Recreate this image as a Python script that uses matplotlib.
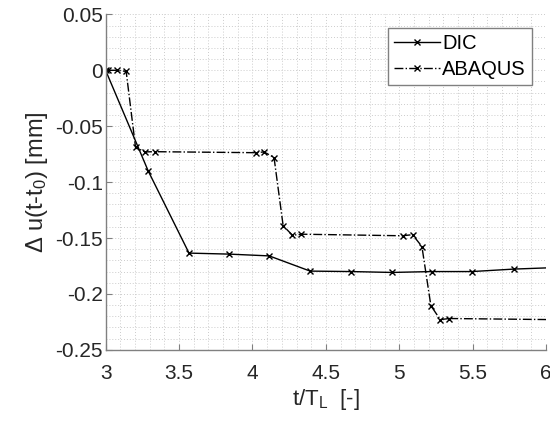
import numpy as np
import matplotlib
matplotlib.use("Agg")
import matplotlib.pyplot as plt
from matplotlib.ticker import MultipleLocator

plt.rcParams["font.family"] = ["Liberation Sans", "DejaVu Sans"]
plt.rcParams["mathtext.fontset"] = "custom"
plt.rcParams["mathtext.rm"] = "Liberation Sans"
plt.rcParams["mathtext.it"] = "Liberation Sans"

# DIC measurement
dic_t = [3.0, 3.29, 3.568, 3.84, 4.114, 4.393, 4.67, 4.95, 5.222, 5.495, 5.779, 6.05]
dic_u = [0.0, -0.090, -0.1635, -0.1644, -0.166, -0.1796, -0.180, -0.1808, -0.180, -0.180, -0.1778, -0.1765]

# ABAQUS simulation
aba_t = [3.018, 3.08, 3.14, 3.204, 3.268, 3.336, 4.022, 4.079, 4.147, 4.209, 4.272,
         4.334, 5.022, 5.09, 5.154, 5.215, 5.279, 5.34, 6.05]
aba_u = [0.0, 0.0, -0.001, -0.069, -0.073, -0.0728, -0.0737, -0.073, -0.078, -0.139, -0.1475,
         -0.1466, -0.148, -0.147, -0.1576, -0.2105, -0.223, -0.222, -0.223]

fig = plt.figure(figsize=(5.5, 4.23), dpi=100)
ax = fig.add_axes([0.192, 0.173, 0.801, 0.793])

ax.plot(dic_t[:-1], dic_u[:-1], color="black", lw=1.0, marker="x", ms=4, mew=1.0,
        label="DIC")
ax.plot(dic_t[-2:], dic_u[-2:], color="black", lw=1.0)
ax.plot(aba_t[:-1], aba_u[:-1], color="black", lw=1.0, ls="-.", marker="x", ms=4, mew=1.0,
        label="ABAQUS")
ax.plot(aba_t[-2:], aba_u[-2:], color="black", lw=1.0, ls="-.")

ax.set_xlim(3, 6)
ax.set_ylim(-0.25, 0.05)
ax.xaxis.set_minor_locator(MultipleLocator(0.1))
ax.yaxis.set_minor_locator(MultipleLocator(0.01))
ax.set_xticks([3, 3.5, 4, 4.5, 5, 5.5, 6])
ax.set_xticklabels(["3", "3.5", "4", "4.5", "5", "5.5", "6"])
ax.set_yticks([0.05, 0, -0.05, -0.1, -0.15, -0.2, -0.25])
ax.set_yticklabels(["0.05", "0", "-0.05", "-0.1", "-0.15", "-0.2", "-0.25"])

ax.grid(which="both", ls=(0, (1, 2)), color="#cccccc", lw=0.7)
ax.set_axisbelow(True)

for s in ["top", "right"]:
    ax.spines[s].set_visible(False)
for s in ["left", "bottom"]:
    ax.spines[s].set_color("#808080")
    ax.spines[s].set_linewidth(1.0)
ax.tick_params(which="major", direction="in", length=4, color="#808080", labelsize=15,
               labelcolor="#262626")
ax.tick_params(which="minor", length=0)
ax.tick_params(axis="x", pad=10)
ax.tick_params(axis="y", pad=2)

ax.set_xlabel("t/T$_\\mathregular{L}$  [-]", fontsize=16, color="#262626", labelpad=3)
ax.set_ylabel("$\\Delta$ u(t-t$_\\mathregular{0}$) [mm]", fontsize=17, color="#262626", labelpad=4)

leg = ax.legend(loc="upper right", bbox_to_anchor=(0.968, 0.96), fontsize=14.5, fancybox=False,
                framealpha=1, edgecolor="#808080", handlelength=2.3, handletextpad=0.1,
                borderpad=0.3, labelspacing=0.35, borderaxespad=0)
leg.get_frame().set_linewidth(1.0)

fig.savefig("out.png", dpi=100)
